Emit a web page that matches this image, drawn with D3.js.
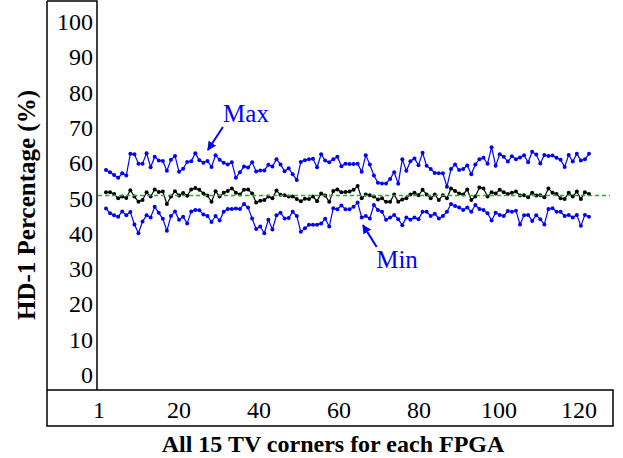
<!DOCTYPE html>
<html><head><meta charset="utf-8">
<script src="https://cdn.jsdelivr.net/npm/d3@7"></script>
<style>html,body{margin:0;padding:0;background:#fff;}svg{display:block;}</style>
</head><body>
<svg id="chart" width="623" height="458"></svg>
<script>
const maxVals = [57.2,56.6,55.8,55.0,56.3,55.7,61.8,61.7,59.0,59.0,62.0,58.0,61.0,59.9,59.8,57.0,60.1,61.2,56.7,57.6,59.5,59.7,62.0,60.0,59.3,59.8,58.1,61.4,
60.1,59.3,58.8,59.4,55.0,56.6,58.2,57.9,59.4,56.8,57.1,57.1,58.7,58.2,60.3,58.8,56.9,57.7,56.0,54.4,59.5,60.0,60.3,60.4,58.0,61.7,59.9,59.4,60.3,61.0,58.3,59.0,
58.9,58.9,59.0,56.7,61.4,58.8,55.7,53.6,53.4,53.4,54.7,56.6,53.3,60.3,57.0,59.7,60.5,58.6,62.1,58.4,57.5,56.4,56.3,56.3,52.5,57.5,58.8,57.2,57.5,58.5,56.0,58.8,
60.3,60.7,59.0,63.7,58.4,61.7,61.0,59.6,61.1,60.3,60.8,61.4,59.4,62.4,61.6,59.1,61.5,61.2,61.3,60.7,60.1,58.1,61.5,59.6,61.8,59.9,60.3,61.8];
const meanVals = [50.9,50.9,50.4,49.2,49.7,49.3,51.5,49.7,48.2,48.7,50.9,49.7,51.7,51.0,51.1,47.6,49.7,51.2,50.0,50.7,49.9,51.7,52.1,51.6,50.6,50.0,48.2,51.2,
49.7,50.8,51.3,52.0,50.8,50.3,51.6,51.7,50.6,48.0,48.5,48.7,49.7,49.2,51.4,50.2,50.1,49.7,49.7,49.0,48.4,49.1,49.0,49.7,48.4,50.6,50.0,48.2,51.3,51.7,50.9,51.0,
51.1,51.6,52.7,49.2,50.3,50.1,49.7,48.9,49.2,48.2,48.2,50.3,48.2,48.9,49.2,50.3,50.8,50.1,51.6,50.3,49.2,50.3,48.7,50.1,49.2,52.0,51.3,50.6,50.3,51.7,48.7,49.7,
52.3,52.0,49.7,50.9,50.6,51.6,50.9,50.4,50.8,51.1,50.0,50.1,49.5,50.8,50.0,50.1,49.5,52.0,50.8,50.4,49.2,49.0,50.8,49.7,51.1,49.0,50.9,50.4];
const minVals = [46.3,45.0,44.4,44.0,45.5,44.4,45.3,41.8,39.3,42.6,44.4,43.8,46.8,45.1,43.4,40.0,44.2,45.5,43.1,44.0,42.1,45.5,45.9,45.8,44.6,44.2,42.5,44.2,
42.9,45.4,46.2,46.2,46.3,46.2,47.6,46.6,43.5,40.5,41.2,39.3,43.1,40.4,44.4,45.1,43.5,43.6,45.4,44.2,39.7,40.7,41.7,41.7,41.7,42.1,43.4,41.2,46.4,46.1,47.2,46.1,
46.1,46.8,48.0,43.8,44.2,43.5,47.3,45.9,45.4,43.1,43.8,44.5,43.3,41.6,43.8,43.1,43.8,43.3,45.4,45.4,44.2,44.8,43.5,44.2,45.4,47.6,47.0,46.6,45.9,46.6,45.4,47.3,
46.2,45.9,45.0,42.9,45.1,44.5,44.2,45.6,45.4,45.7,41.8,44.4,44.5,42.8,44.4,43.3,41.8,46.2,46.4,45.4,45.4,44.2,44.5,43.8,44.5,41.4,44.5,44.0];
const yTicks = [0,10,20,30,40,50,60,70,80,90,100];
const xTickLabels = ["1","20","40","60","80","100","120"];
const refValue = 50;
const yTitle = "HD-1 Percentage (%)";
const xTitle = "All 15 TV corners for each FPGA";
// annotations in data units: [label, textX, textY, arrowFromX, arrowFromY, arrowToX, arrowToY]
const annotations = [
  ["Max", 35.5, 70.8, 29.8, 69.4, 26.1, 62.9],
  ["Min", 72.7, 29.5, 67.7, 35.4, 64.3, 41.6]
];

const svg = d3.select("#chart");
const font = "'Liberation Serif','Times New Roman',serif";
const blue = "#0000ff";

const x = d3.scaleLinear().domain([1, 120]).range([106, 589]);
const y = d3.scaleLinear().domain([0, 100]).range([372, 19]);
const xl = d3.scalePoint().domain(xTickLabels).range([99, 579]);

// frame
const frame = svg.append("g").attr("stroke", "#000").attr("stroke-width", 1.5).attr("fill", "none");
frame.append("path").attr("d", "M47,1 H97 V390 M47,1 V426 H613 V390 H47");

svg.append("defs").append("marker").attr("id","ah").attr("viewBox","0 0 10 10")
  .attr("refX",9).attr("refY",5).attr("markerWidth",9).attr("markerHeight",9)
  .attr("markerUnits","userSpaceOnUse").attr("orient","auto")
  .append("path").attr("d","M0,0 L10,5 L0,10 z").attr("fill", blue);

// y tick labels
svg.append("g").selectAll("text").data(yTicks).join("text")
  .attr("x", 93).attr("y", d => y(d) + 11)
  .attr("text-anchor", "end").attr("font-family", font).attr("font-size", 24)
  .attr("fill", "#000").text(d => d);

// x tick labels
svg.append("g").selectAll("text").data(xTickLabels).join("text")
  .attr("x", d => xl(d)).attr("y", 418)
  .attr("text-anchor", "middle").attr("font-family", font).attr("font-size", 24)
  .attr("fill", "#000").text(d => d);

// titles
svg.append("text").attr("x", 333).attr("y", 452).attr("text-anchor", "middle")
  .attr("font-family", font).attr("font-size", 24).attr("font-weight", "bold").text(xTitle);
svg.append("text").attr("transform", "translate(35,205) rotate(-90)").attr("text-anchor", "middle")
  .attr("font-family", font).attr("font-size", 25).attr("font-weight", "bold").text(yTitle);

const line = d3.line().x((d, i) => x(i + 1)).y(d => y(d));
const series = [
  {vals: maxVals, color: blue},
  {vals: minVals, color: blue},
  {vals: meanVals, color: "#000"}
];
series.forEach(s => {
  svg.append("path").attr("d", line(s.vals)).attr("fill", "none")
    .attr("stroke", s.color).attr("stroke-width", 1.2);
  svg.append("g").selectAll("circle").data(s.vals).join("circle")
    .attr("cx", (d, i) => x(i + 1)).attr("cy", d => y(d)).attr("r", 2)
    .attr("fill", s.color);
});

// reference line (on top)
svg.append("line").attr("x1", 98).attr("x2", 610).attr("y1", y(refValue)).attr("y2", y(refValue))
  .attr("stroke", "#00c800").attr("stroke-width", 1.6).attr("stroke-dasharray", "4,3");

// annotations
annotations.forEach(a => {
  svg.append("text").attr("x", x(a[1])).attr("y", y(a[2])).attr("text-anchor", "middle")
    .attr("font-family", font).attr("font-size", 25).attr("fill", blue).text(a[0]);
  svg.append("line").attr("x1", x(a[3])).attr("y1", y(a[4])).attr("x2", x(a[5])).attr("y2", y(a[6]))
    .attr("stroke", blue).attr("stroke-width", 2).attr("marker-end", "url(#ah)");
});
</script>
</body></html>
